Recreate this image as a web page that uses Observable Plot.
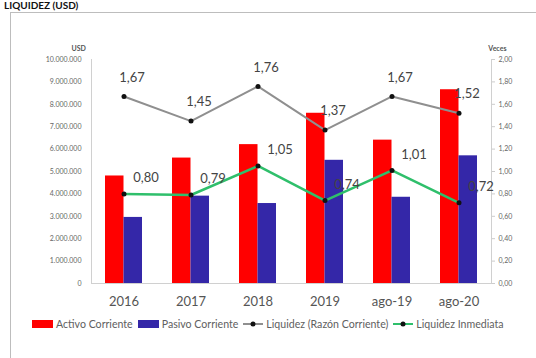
<!DOCTYPE html>
<html>
<head>
<meta charset="utf-8">
<script src="https://cdn.jsdelivr.net/npm/d3@7"></script>
<script src="https://cdn.jsdelivr.net/npm/@observablehq/plot@0.6"></script>
<style>
  html, body { margin: 0; padding: 0; background: #fff; }
  body { width: 536px; height: 358px; position: relative; overflow: hidden; font-family: Lato, "Open Sans", sans-serif; }
  #title { position: absolute; left: 4px; top: 0px; font: bold 10px Lato, sans-serif; line-height: 11px; color: #111; white-space: nowrap; }
  #frame { position: absolute; left: 10px; top: 12px; width: 600px; height: 400px; border: 1.5px solid #bdbdbd; box-sizing: border-box; }
  #chart { position: absolute; left: 0; top: 0; }
  #legend { position: absolute; left: 32px; top: 318px; display: flex; align-items: center; font-size: 10.6px; color: #606060; white-space: nowrap; }
  #legend .item { display: flex; align-items: center; margin-right: 5px; }
  #legend .sw { display: inline-block; width: 21px; height: 8px; margin-right: 3px; }
  #legend svg { margin-right: 3px; }
</style>
</head>
<body>
<div id="title">LIQUIDEZ (USD)</div>
<div id="frame"></div>
<div id="chart"></div>
<div id="legend"></div>
<script>
const categories = ["2016", "2017", "2018", "2019", "ago-19", "ago-20"];
const activoCorriente = [4800000, 5600000, 6200000, 7600000, 6400000, 8650000];
const pasivoCorriente = [2950000, 3900000, 3570000, 5500000, 3850000, 5700000];
const razonCorriente = [1.67, 1.45, 1.76, 1.37, 1.67, 1.52];
const liquidezInmediata = [0.80, 0.79, 1.05, 0.74, 1.01, 0.72];
const leftTicks = [0, 1000000, 2000000, 3000000, 4000000, 5000000, 6000000, 7000000, 8000000, 9000000, 10000000];

const RATIO = 5000000; // 2,00 veces ↔ 10.000.000 USD
const loc = d3.formatLocale({decimal: ",", thousands: ".", grouping: [3], currency: ["", ""]});
const fmtUsd = loc.format(",d");
const fmtRatio = loc.format(".2f");

const rows = categories.map((c, i) => ({
  cat: c, activo: activoCorriente[i], pasivo: pasivoCorriente[i],
  razon: razonCorriente[i], inmediata: liquidezInmediata[i]
}));

const RED = "#ff0000", BLUE = "#3427a8", GRAY = "#8f8f8f", GREEN = "#2fbf6b";
const half = 18.5;

const plot = Plot.plot({
  width: 536,
  height: 315,
  marginLeft: 91,
  marginRight: 45,
  marginTop: 59,
  marginBottom: 32,
  style: {fontFamily: "Lato, sans-serif", background: "transparent", overflow: "visible"},
  x: {domain: categories, type: "band", paddingInner: 0.45, paddingOuter: 0.2},
  y: {domain: [0, 10000000]},
  marks: [
    Plot.axisX({tickSize: 0, tickPadding: 13, fontSize: 13, color: "#555", label: null}),
    Plot.axisY({ticks: leftTicks, tickFormat: fmtUsd, tickSize: 0, tickPadding: 10, fontSize: 7, color: "#666", label: null}),
    Plot.axisY({anchor: "right", ticks: leftTicks, tickFormat: d => fmtRatio(d / RATIO), tickSize: 3, tickPadding: 4, fontSize: 7, color: "#666", stroke: "#ccc", label: null}),
    Plot.frame({anchor: "left", stroke: "#d0d0d0"}),
    Plot.frame({anchor: "right", stroke: "#d0d0d0"}),
    Plot.ruleY([0], {stroke: "#d0d0d0"}),
    Plot.text(["USD"], {frameAnchor: "top-left", dx: -20, dy: -13, fontSize: 7, fill: "#555", fontWeight: "bold"}),
    Plot.text(["Veces"], {frameAnchor: "top-right", dx: 15, dy: -13, fontSize: 7, fill: "#555", fontWeight: "bold"}),
    Plot.barY(rows, {x: "cat", y: "activo", fill: RED, insetRight: half}),
    Plot.barY(rows, {x: "cat", y: "pasivo", fill: BLUE, insetLeft: half}),
    Plot.line(rows, {x: "cat", y: d => d.razon * RATIO, stroke: GRAY, strokeWidth: 2}),
    Plot.dot(rows, {x: "cat", y: d => d.razon * RATIO, fill: "#111", r: 2.5}),
    Plot.line(rows, {x: "cat", y: d => d.inmediata * RATIO, stroke: GREEN, strokeWidth: 2.5}),
    Plot.dot(rows, {x: "cat", y: d => d.inmediata * RATIO, fill: "#111", r: 2.5}),
    Plot.text(rows, {x: "cat", y: d => d.razon * RATIO, text: d => fmtRatio(d.razon), dx: 8, dy: -19, fontSize: 13, fill: "#444"}),
    Plot.text(rows, {x: "cat", y: d => d.inmediata * RATIO, text: d => fmtRatio(d.inmediata), dx: 22, dy: -16, fontSize: 13, fill: "#444"})
  ]
});
document.getElementById("chart").appendChild(plot);

const legendItems = [
  {label: "Activo Corriente", kind: "bar", color: RED},
  {label: "Pasivo Corriente", kind: "bar", color: BLUE},
  {label: "Liquidez (Razón Corriente)", kind: "line", color: GRAY},
  {label: "Liquidez Inmediata", kind: "line", color: GREEN}
];
const lg = document.getElementById("legend");
for (const it of legendItems) {
  const d = document.createElement("span");
  d.className = "item";
  if (it.kind === "bar") {
    d.innerHTML = `<span class="sw" style="background:${it.color}"></span>${it.label}`;
  } else {
    d.innerHTML = `<svg width="20" height="8"><line x1="0" x2="20" y1="4" y2="4" stroke="${it.color}" stroke-width="2"/><circle cx="10" cy="4" r="2.5" fill="#111"/></svg>${it.label}`;
  }
  lg.appendChild(d);
}
</script>
</body>
</html>
